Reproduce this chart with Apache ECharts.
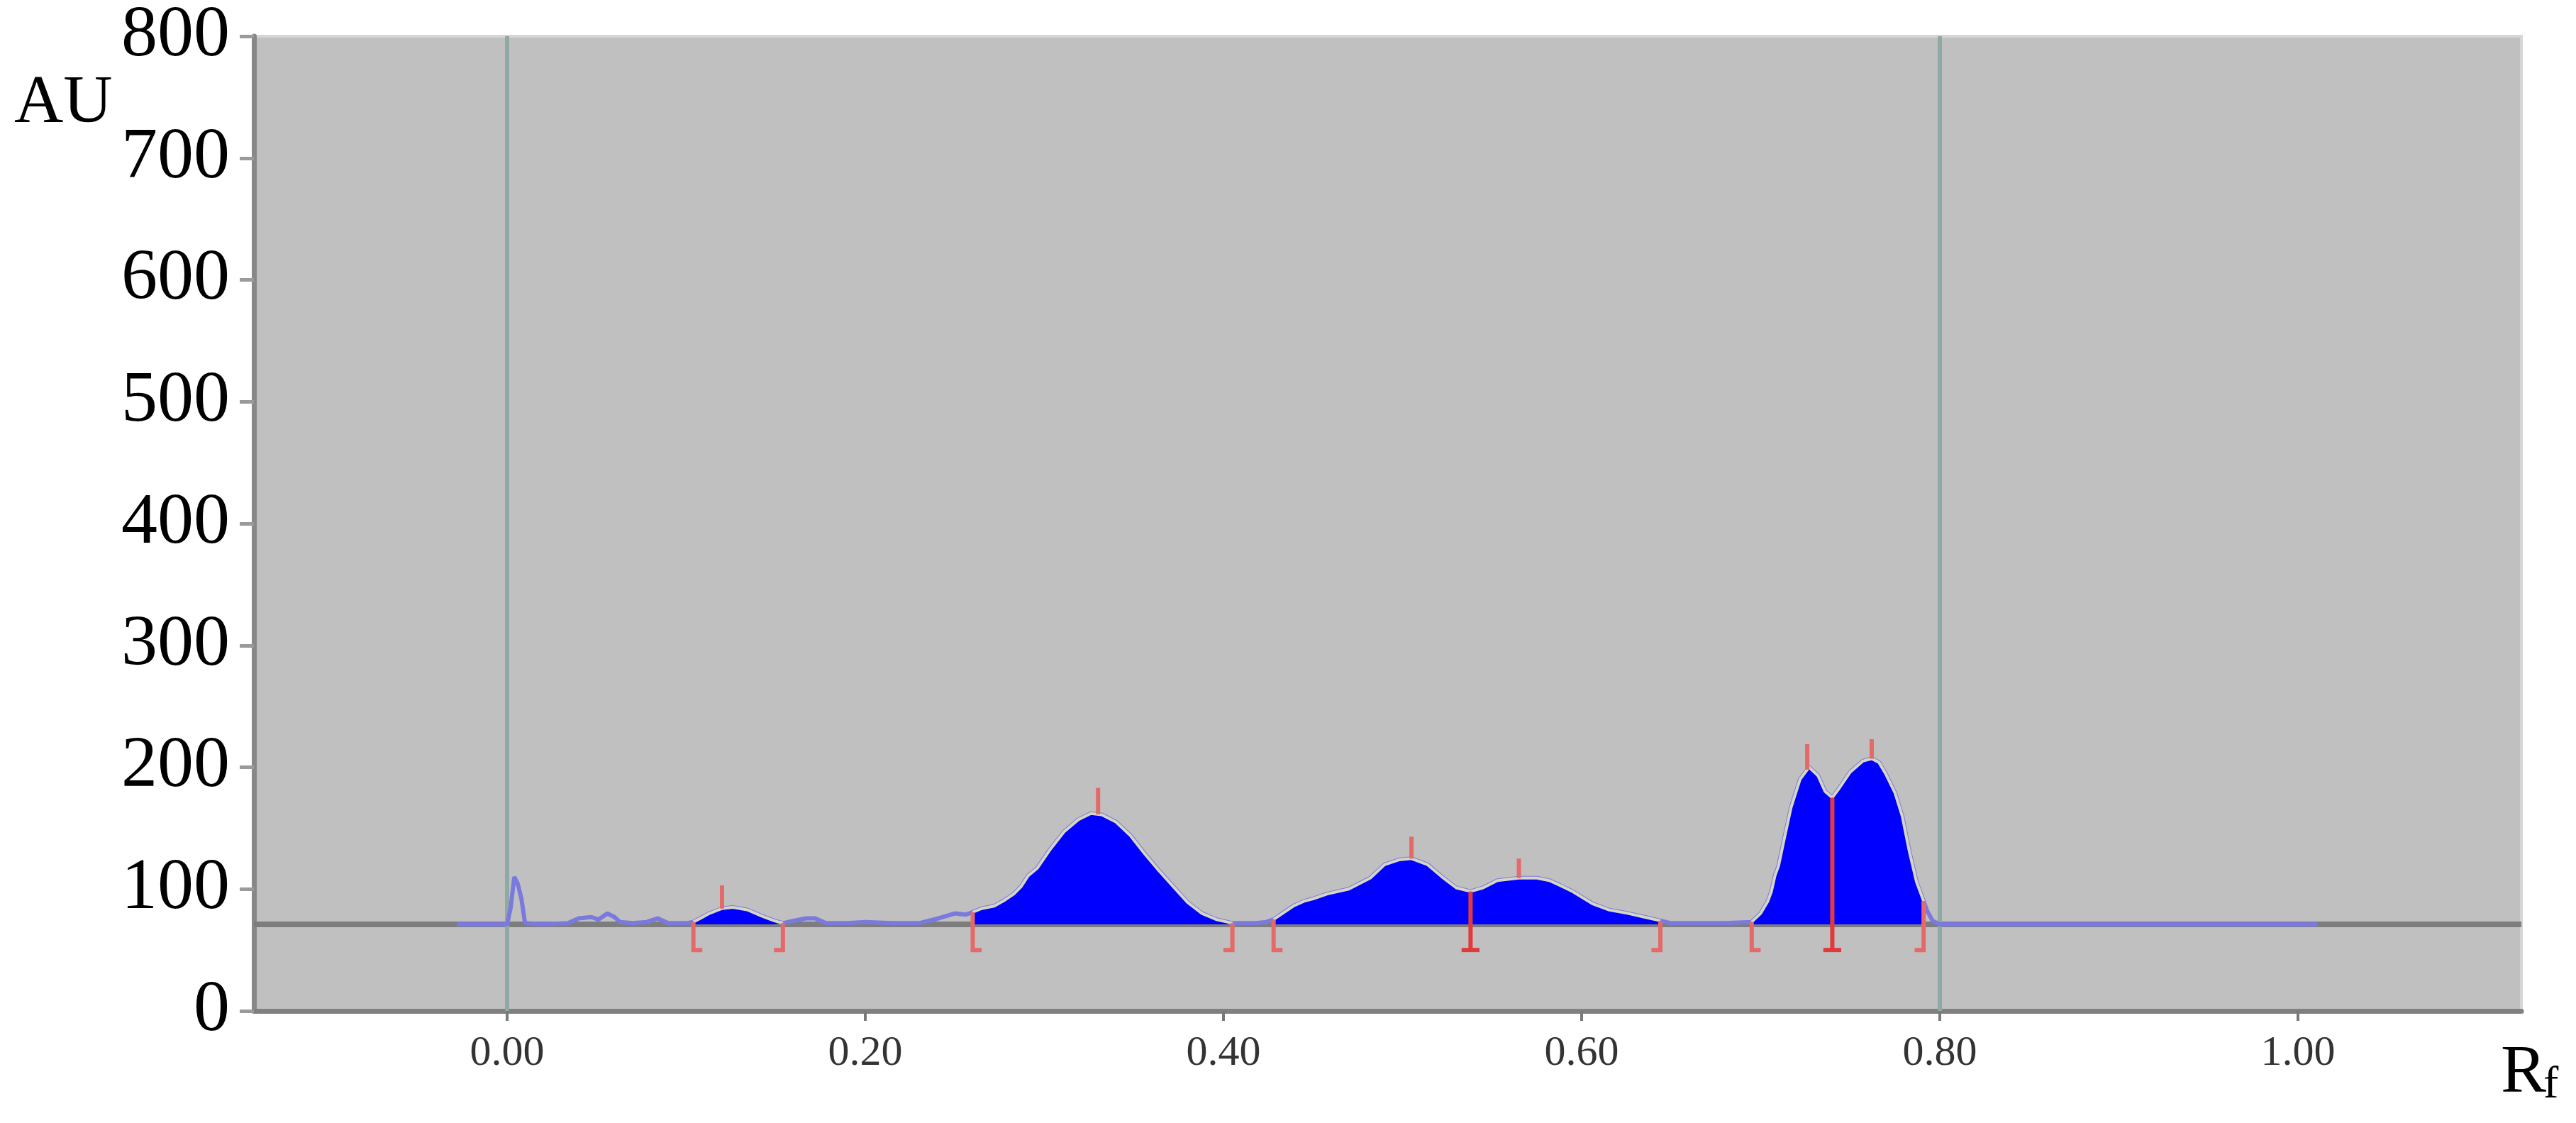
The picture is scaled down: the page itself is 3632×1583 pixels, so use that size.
<!DOCTYPE html>
<html>
<head>
    <meta charset="utf-8">
    <title>Densitogram</title>
    <script src="https://cdn.jsdelivr.net/npm/echarts@6/dist/echarts.min.js"></script>
    <style>
        html, body { margin: 0; padding: 0; background: #fff; }
        #chart { width: 3632px; height: 1583px; }
    </style>
</head>
<body>
<div id="chart"></div>
<script type="text/javascript">
    // scan trace (Rf, AU)
    var rfValues = [-0.028, 0.000, 0.002, 0.004, 0.006, 0.008, 0.010, 0.020, 0.034, 0.040,
        0.047, 0.051, 0.056, 0.060, 0.063, 0.070, 0.078, 0.084, 0.090, 0.100,
        0.104, 0.108, 0.113, 0.120, 0.126, 0.134, 0.142, 0.149, 0.154, 0.160,
        0.167, 0.172, 0.178, 0.190, 0.200, 0.215, 0.230, 0.241, 0.250, 0.256,
        0.260, 0.265, 0.272, 0.278, 0.283, 0.287, 0.291, 0.296, 0.303, 0.311,
        0.319, 0.326, 0.332, 0.340, 0.348, 0.356, 0.364, 0.372, 0.380, 0.388,
        0.396, 0.402, 0.405, 0.410, 0.418, 0.424, 0.428, 0.433, 0.439, 0.445,
        0.450, 0.458, 0.470, 0.482, 0.490, 0.498, 0.505, 0.514, 0.522, 0.530,
        0.538, 0.545, 0.553, 0.565, 0.575, 0.582, 0.588, 0.595, 0.606, 0.615,
        0.626, 0.635, 0.644, 0.650, 0.665, 0.680, 0.695, 0.700, 0.704, 0.706,
        0.708, 0.710, 0.713, 0.717, 0.722, 0.727, 0.732, 0.736, 0.740, 0.744,
        0.750, 0.757, 0.762, 0.766, 0.770, 0.775, 0.779, 0.783, 0.787, 0.791,
        0.793, 0.796, 0.800, 0.850, 0.950, 1.011];
    var auValues = [71, 71, 85, 110, 104, 92, 72, 71, 72, 76,
        77, 75, 80, 77, 73, 72, 73, 76, 72, 72,
        73, 76, 80, 84, 85, 83, 78, 74, 72, 74,
        76, 76, 72, 72, 73, 72, 72, 76, 80, 79,
        81, 84, 86, 91, 96, 102, 111, 117, 132, 147,
        157, 162, 161, 155, 144, 129, 115, 102, 89, 80,
        75, 73, 72, 72, 72, 73, 75, 80, 86, 90,
        92, 96, 100, 109, 120, 124, 125, 120, 110, 101,
        98, 101, 107, 109, 109, 107, 103, 98, 88, 83,
        80, 77, 74, 72, 72, 72, 73, 80, 90, 98,
        111, 119, 140, 167, 190, 200, 193, 180, 175, 183,
        196, 205, 207, 204, 194, 179, 160, 131, 106, 90,
        82, 74, 71, 71, 71, 71];

    var baselineAU = 71;
    var xTickValues = [0, 0.2, 0.4, 0.6, 0.8, 1.0];
    var xTickLabels = ['0.00', '0.20', '0.40', '0.60', '0.80', '1.00'];
    var frontLines = [0.003, 0.80];

    // integrated peak windows
    var peakRegions = [[0.104, 0.154], [0.260, 0.405], [0.428, 0.538],
        [0.538, 0.644], [0.695, 0.740], [0.740, 0.791]];
    var startBounds = [0.104, 0.260, 0.428, 0.695];
    var endBounds = [0.154, 0.405, 0.644, 0.791];
    var splitBounds = [0.538, 0.740];
    var peakMaxRf = [0.120, 0.330, 0.505, 0.565, 0.726, 0.762];
    var peakMarkTop = [103, 183, 143, 125, 219, 223];
    var bracketBottom = 50;

    var trace = rfValues.map(function (rf, i) { return [rf, auValues[i]]; });

    function auAt(rf) {
        for (var i = 1; i < rfValues.length; i++) {
            if (rf <= rfValues[i]) {
                var t = (rf - rfValues[i - 1]) / (rfValues[i] - rfValues[i - 1]);
                return auValues[i - 1] + t * (auValues[i] - auValues[i - 1]);
            }
        }
        return baselineAU;
    }

    // kind: 0 start bracket, 1 end bracket, 2 split, 3 peak max tick
    var markData = [];
    startBounds.forEach(function (x) { markData.push([x, auAt(x), bracketBottom, 0]); });
    endBounds.forEach(function (x) { markData.push([x, auAt(x), bracketBottom, 1]); });
    splitBounds.forEach(function (x) { markData.push([x, auAt(x), bracketBottom, 2]); });
    peakMaxRf.forEach(function (x, i) { markData.push([x, auAt(x), peakMarkTop[i], 3]); });

    var serif = 'Liberation Serif, Times New Roman, serif';
    var foot = 0.005;

    var series = [
        {
            // baseline and start / front lines, kept under the trace
            type: 'line',
            data: [],
            z: 1,
            markLine: {
                silent: true,
                z: 1,
                symbol: 'none',
                label: { show: false },
                animation: false,
                data: [
                    { yAxis: baselineAU, lineStyle: { color: '#7d7d7d', width: 8, type: 'solid' } }
                ].concat(frontLines.map(function (x) {
                    return { xAxis: x, lineStyle: { color: '#8fa9a5', width: 6, type: 'solid' } };
                }))
            }
        },
        {
            type: 'line',
            data: trace,
            showSymbol: false,
            z: 2,
            lineStyle: { color: '#7a7ade', width: 6 },
            silent: true
        }
    ];

    peakRegions.forEach(function (r) {
        series.push({
            type: 'line',
            data: trace.filter(function (p) { return p[0] >= r[0] - 1e-9 && p[0] <= r[1] + 1e-9; }),
            showSymbol: false,
            z: 3,
            silent: true,
            lineStyle: { color: '#d6d6c2', width: 4 },
            areaStyle: { color: '#0000ff', opacity: 1, origin: baselineAU }
        });
    });

    series.push({
        type: 'custom',
        z: 4,
        silent: true,
        data: markData,
        renderItem: function (params, api) {
            var x = api.value(0), y1 = api.value(1), y2 = api.value(2), kind = api.value(3);
            var pts;
            var color = '#e46a6a';
            if (kind === 0) {
                pts = [[x, y1], [x, y2], [x + foot, y2]];
            } else if (kind === 1) {
                pts = [[x, y1], [x, y2], [x - foot, y2]];
            } else {
                pts = [[x, y1], [x, y2]];
            }
            if (kind === 2) color = '#e23a3a';
            var children = [{
                type: 'polyline',
                shape: { points: pts.map(function (p) { return api.coord(p); }) },
                style: { stroke: color, lineWidth: 6, fill: null }
            }];
            if (kind === 2) {
                children.push({
                    type: 'polyline',
                    shape: { points: [api.coord([x - foot, y2]), api.coord([x + foot, y2])] },
                    style: { stroke: color, lineWidth: 6, fill: null }
                });
            }
            return { type: 'group', children: children };
        }
    });

    var myChart = echarts.init(document.getElementById('chart'));
    myChart.setOption({
        animation: false,
        backgroundColor: '#ffffff',
        grid: {
            left: 358, right: 77, top: 49, bottom: 158,
            show: true,
            backgroundColor: '#c0c0c0',
            borderColor: '#d6d6d6',
            borderWidth: 4
        },
        xAxis: {
            type: 'value',
            min: -0.1414,
            max: 1.1248,
            splitLine: { show: false },
            axisLine: { show: true, onZero: false, lineStyle: { color: '#808080', width: 7 } },
            axisTick: {
                show: true,
                customValues: xTickValues,
                length: 14,
                lineStyle: { color: '#7a7a7a', width: 4 }
            },
            axisLabel: {
                customValues: xTickValues,
                formatter: function (v) {
                    var i = xTickValues.indexOf(v);
                    return i >= 0 ? xTickLabels[i] : v.toFixed(2);
                },
                margin: 30,
                fontSize: 60,
                fontFamily: serif,
                color: '#333333'
            }
        },
        yAxis: {
            type: 'value',
            min: 0,
            max: 800,
            interval: 100,
            splitLine: { show: false },
            axisLine: { show: true, onZero: false, lineStyle: { color: '#888888', width: 7 } },
            axisTick: { show: true, length: 20, lineStyle: { color: '#9a9a9a', width: 5 } },
            axisLabel: {
                margin: 34,
                fontSize: 102,
                fontFamily: serif,
                color: '#000000',
                padding: [18, 0, 0, 0]
            }
        },
        graphic: [
            {
                type: 'text', x: 20, y: 147,
                style: { text: 'AU', font: '96px ' + serif, fill: '#000', textAlign: 'left', textVerticalAlign: 'middle' }
            },
            {
                type: 'text', x: 3526, y: 1514,
                style: { text: 'R', font: '96px ' + serif, fill: '#000', textAlign: 'left', textVerticalAlign: 'middle' }
            },
            {
                type: 'text', x: 3586, y: 1530,
                style: { text: 'f', font: '64px ' + serif, fill: '#000', textAlign: 'left', textVerticalAlign: 'middle' }
            }
        ],
        series: series
    });
</script>
</body>
</html>
